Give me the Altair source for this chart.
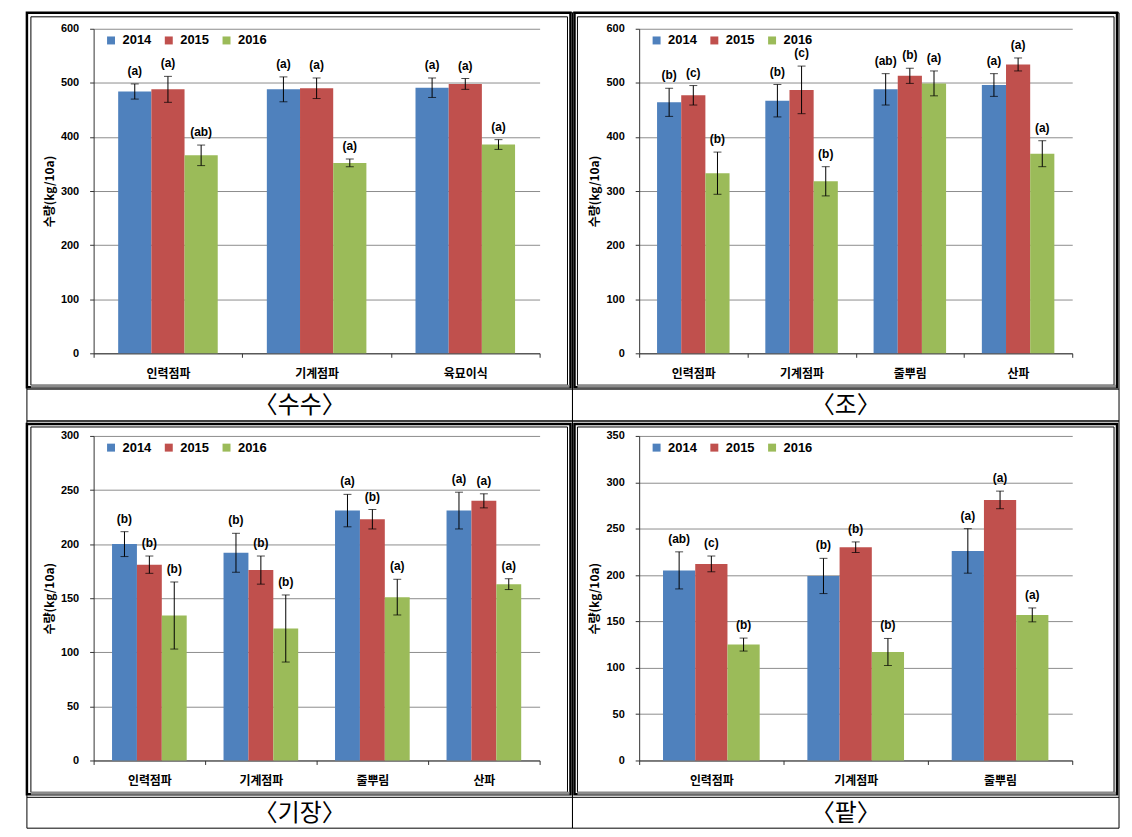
import altair as alt
import pandas as pd

YEARS = ["2014", "2015", "2016"]
COLORS = ["#4F81BD", "#C0504D", "#9BBB59"]

# 수수
sorghum_cats = ["인력점파", "기계점파", "육묘이식"]
sorghum_2014 = [484, 488, 491]
sorghum_2015 = [488, 490, 498]
sorghum_2016 = [366, 352, 386]
sorghum_err_2014 = [14, 23, 18]
sorghum_err_2015 = [24, 19, 10]
sorghum_err_2016 = [19, 7, 9]
sorghum_lab_2014 = ["(a)", "(a)", "(a)"]
sorghum_lab_2015 = ["(a)", "(a)", "(a)"]
sorghum_lab_2016 = ["(ab)", "(a)", "(a)"]

# 조
millet_cats = ["인력점파", "기계점파", "줄뿌림", "산파"]
millet_2014 = [464, 467, 488, 496]
millet_2015 = [477, 487, 513, 534]
millet_2016 = [333, 318, 499, 369]
millet_err_2014 = [26, 30, 29, 21]
millet_err_2015 = [18, 44, 14, 12]
millet_err_2016 = [39, 27, 23, 24]
millet_lab_2014 = ["(b)", "(b)", "(ab)", "(a)"]
millet_lab_2015 = ["(c)", "(c)", "(b)", "(a)"]
millet_lab_2016 = ["(b)", "(b)", "(a)", "(a)"]

# 기장
proso_cats = ["인력점파", "기계점파", "줄뿌림", "산파"]
proso_2014 = [200, 192, 231, 231]
proso_2015 = [181, 176, 223, 240]
proso_2016 = [134, 122, 151, 163]
proso_err_2014 = [11.5, 18, 15, 17]
proso_err_2015 = [8, 13, 9, 6.5]
proso_err_2016 = [31, 31, 16.5, 5]
proso_lab_2014 = ["(b)", "(b)", "(a)", "(a)"]
proso_lab_2015 = ["(b)", "(b)", "(b)", "(a)"]
proso_lab_2016 = ["(b)", "(b)", "(a)", "(a)"]

# 팥
adzuki_cats = ["인력점파", "기계점파", "줄뿌림"]
adzuki_2014 = [205, 199, 226]
adzuki_2015 = [212, 230, 281]
adzuki_2016 = [125, 117, 157]
adzuki_err_2014 = [20, 19, 24]
adzuki_err_2015 = [8.5, 5.7, 9.5]
adzuki_err_2016 = [7, 14.6, 7.5]
adzuki_lab_2014 = ["(ab)", "(b)", "(a)"]
adzuki_lab_2015 = ["(c)", "(b)", "(a)"]
adzuki_lab_2016 = ["(b)", "(b)", "(a)"]

FONT = "Liberation Sans, Noto Sans CJK KR"
KFONT = "Noto Sans CJK KR"
H = 326


def make_df(cats, vals, errs, labs):
    rows = []
    for yi, y in enumerate(YEARS):
        for ci, c in enumerate(cats):
            v = vals[yi][ci]
            e = errs[yi][ci]
            rows.append({"cat": c, "year": y, "value": v, "lo": v - e,
                         "hi": v + e, "label": labs[yi][ci]})
    return pd.DataFrame(rows)


def panel(cats, vals, errs, labs, ymax, step, caption, width, geo):
    df = make_df(cats, vals, errs, labs)
    base = alt.Chart(df)
    xenc = alt.X("cat:N", sort=cats, title=None,
                 scale=alt.Scale(paddingInner=0, paddingOuter=0),
                 axis=alt.Axis(labelAngle=0, labelFont=KFONT, labelFontSize=12,
                               labelFontWeight="bold", labelColor="#000",
                               tickBand="extent", tickSize=4, tickColor="#333",
                               domainColor="#333", labelPadding=11, grid=False))
    xoff = alt.XOffset("year:N", sort=YEARS,
                       scale=alt.Scale(paddingOuter=0.74, paddingInner=0))
    ticks = list(range(0, ymax + 1, step))
    yscale = alt.Scale(domain=[0, ymax], nice=False)
    yenc = alt.Y("value:Q", scale=yscale, title="수량(kg/10a)",
                 axis=alt.Axis(values=ticks, labelFont=FONT, labelFontSize=11,
                               labelFontWeight="bold", labelColor="#000",
                               tickSize=4, tickColor="#333", domainColor="#333",
                               labelPadding=11, gridColor="#8c8c8c",
                               titleFont=KFONT, titleFontSize=12,
                               titleFontWeight="bold", titleColor="#000",
                               titlePadding=4))
    bars = base.mark_bar().encode(
        x=xenc, xOffset=xoff, y=yenc,
        color=alt.Color("year:N", sort=YEARS,
                        scale=alt.Scale(domain=YEARS, range=COLORS),
                        legend=alt.Legend(orient="none", legendX=11, legendY=5,
                                          direction="horizontal", title=None,
                                          symbolType="square", symbolSize=64,
                                          symbolStrokeWidth=0, labelFont=FONT,
                                          labelFontSize=13, labelFontWeight="bold",
                                          labelColor="#000", labelOffset=5,
                                          columnPadding=11, padding=0)))
    rules = base.mark_rule(color="#000", strokeWidth=1).encode(
        x=alt.X("cat:N", sort=cats), xOffset=xoff,
        y=alt.Y("lo:Q", scale=yscale), y2="hi:Q")
    caps_hi = base.mark_tick(color="#000", size=8, thickness=1,
                             orient="horizontal").encode(
        x=alt.X("cat:N", sort=cats), xOffset=xoff, y=alt.Y("hi:Q", scale=yscale))
    caps_lo = base.mark_tick(color="#000", size=8, thickness=1,
                             orient="horizontal").encode(
        x=alt.X("cat:N", sort=cats), xOffset=xoff, y=alt.Y("lo:Q", scale=yscale))
    texts = base.mark_text(font=FONT, fontSize=12, fontWeight="bold",
                           baseline="bottom", dy=-6, color="#000").encode(
        x=alt.X("cat:N", sort=cats), xOffset=xoff, y=alt.Y("hi:Q", scale=yscale),
        text="label:N")

    one = alt.Data(values=[{"k": 1}])
    cx1, cx2, cy1, cy2, capy, ox1, ox2, oy1, oy2, ix1, ix2, iy1, iy2 = geo
    cell = alt.Chart(one).mark_rect(filled=False, stroke="#000", strokeWidth=1).encode(
        x=alt.value(cx1), x2=alt.value(cx2), y=alt.value(cy1), y2=alt.value(cy2))
    capline = alt.Chart(one).mark_rule(color="#000", strokeWidth=1).encode(
        x=alt.value(cx1), x2=alt.value(cx2), y=alt.value(capy))
    outer = alt.Chart(one).mark_rect(filled=False, stroke="#000", strokeWidth=2.5).encode(
        x=alt.value(ox1), x2=alt.value(ox2), y=alt.value(oy1), y2=alt.value(oy2))
    inner = alt.Chart(one).mark_rect(filled=False, stroke="#000", strokeWidth=1).encode(
        x=alt.value(ix1), x2=alt.value(ix2), y=alt.value(iy1), y2=alt.value(iy2))
    shadow = alt.Chart(one).mark_rule(color="#8a8a8a", strokeWidth=3).encode(
        x=alt.value(ix1), x2=alt.value(ox2 - 1), y=alt.value(oy2 - 1))
    cap = alt.Chart(one).mark_text(text=caption, font=KFONT, fontSize=24,
                                   color="#000", baseline="middle").encode(
        x=alt.value((cx1 + cx2) / 2), y=alt.value(capy + 17))

    return alt.layer(cell, capline, outer, inner, shadow, bars, rules,
                     caps_hi, caps_lo, texts, cap).properties(width=width, height=H)


GEO_TL = (-67, 481, -16, 394, 362, -67, 479, -16, 360, -63, 476, -12, 358)
GEO_TR = (-67, 482, -16, 394, 362, -65, 480, -16, 360, -62, 477, -12, 358)
GEO_BL = (-67, 481, -15, 394, 363, -67, 479, -12, 360, -63, 476, -9, 358)
GEO_BR = (-67, 482, -15, 394, 363, -65, 480, -12, 360, -62, 477, -9, 358)

p1 = panel(sorghum_cats, [sorghum_2014, sorghum_2015, sorghum_2016],
           [sorghum_err_2014, sorghum_err_2015, sorghum_err_2016],
           [sorghum_lab_2014, sorghum_lab_2015, sorghum_lab_2016],
           600, 100, "〈수수〉", 448, GEO_TL)
p2 = panel(millet_cats, [millet_2014, millet_2015, millet_2016],
           [millet_err_2014, millet_err_2015, millet_err_2016],
           [millet_lab_2014, millet_lab_2015, millet_lab_2016],
           600, 100, "〈조〉", 435, GEO_TR)
p3 = panel(proso_cats, [proso_2014, proso_2015, proso_2016],
           [proso_err_2014, proso_err_2015, proso_err_2016],
           [proso_lab_2014, proso_lab_2015, proso_lab_2016],
           300, 50, "〈기장〉", 448, GEO_BL)
p4 = panel(adzuki_cats, [adzuki_2014, adzuki_2015, adzuki_2016],
           [adzuki_err_2014, adzuki_err_2015, adzuki_err_2016],
           [adzuki_lab_2014, adzuki_lab_2015, adzuki_lab_2016],
           350, 50, "〈팥〉", 435, GEO_BR)

chart = alt.concat(p1, p2, p3, p4, columns=2, spacing={"row": 83, "column": 100},
                   bounds="flush").resolve_scale(
    x="independent", y="independent", color="independent", xOffset="independent"
).resolve_legend(color="independent").properties(
    padding={"left": 17, "top": 1, "right": 4, "bottom": 4},
    background="#ffffff"
).configure_view(strokeWidth=0)

chart.save("out.html", embed_options={"renderer": "svg", "actions": False})
